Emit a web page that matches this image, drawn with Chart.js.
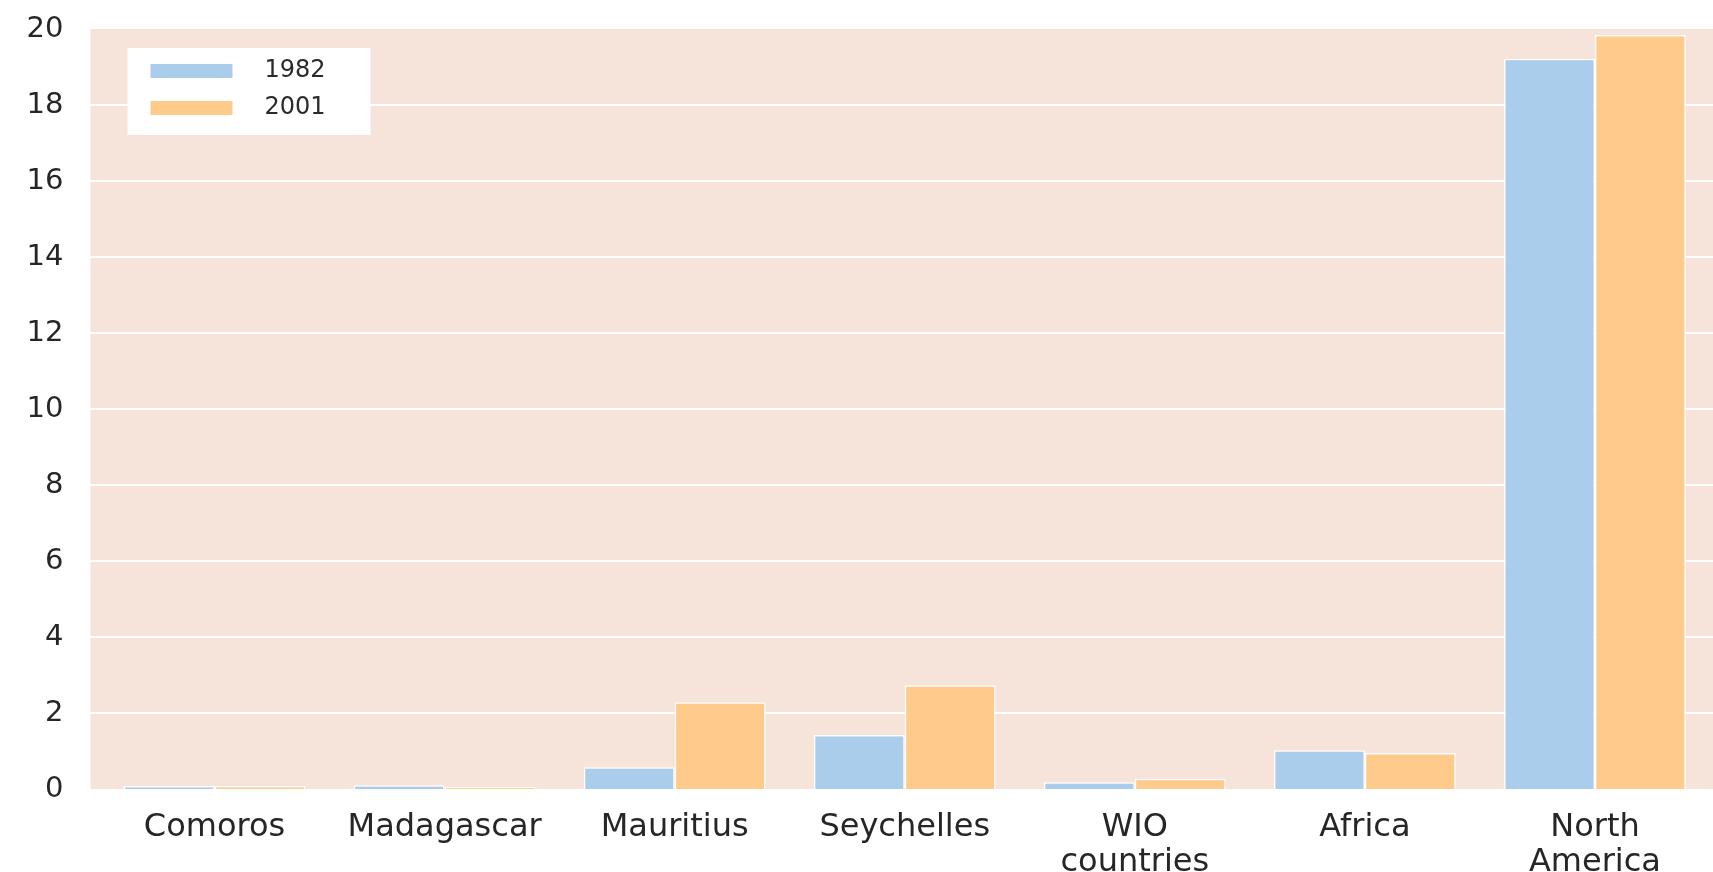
<!DOCTYPE html>
<html>
<head>
<meta charset="utf-8">
<script src="https://cdn.jsdelivr.net/npm/chart.js@4.4.0/dist/chart.umd.min.js"></script>
<style>
  body { margin: 0; background: #fff; }
  canvas { display: block; }
</style>
</head>
<body>
<canvas id="barChart" width="1713" height="872"></canvas>
<script>
// data
var categories = ['Comoros', 'Madagascar', 'Mauritius', 'Seychelles', ['WIO', 'countries'], 'Africa', ['North', 'America']];
var seriesLabels = ['1982', '2001'];
var values1982 = [0.08, 0.1, 0.57, 1.42, 0.18, 1.02, 19.22];
var values2001 = [0.08, 0.05, 2.28, 2.73, 0.27, 0.95, 19.84];
var yTicks = [0, 2, 4, 6, 8, 10, 12, 14, 16, 18, 20];

var blue = '#abcdec';
var orange = '#fecb8b';

// 배경 + 흰색 그리드
var backdrop = {
  id: 'backdrop',
  beforeDatasetsDraw: function (chart) {
    var c = chart.ctx, a = chart.chartArea, y = chart.scales.y;
    var left = a.left - 9;
    c.save();
    c.fillStyle = '#f6e4db';
    c.fillRect(left, a.top, chart.width - left, a.bottom - a.top);
    c.strokeStyle = '#ffffff';
    c.lineWidth = 2;
    yTicks.forEach(function (t) {
      if (t === 0 || t === 20) return;
      var py = Math.round(y.getPixelForValue(t));
      c.beginPath();
      c.moveTo(left, py);
      c.lineTo(chart.width, py);
      c.stroke();
    });
    c.restore();
  }
};

// 범례 (흰 상자)
var boxLegend = {
  id: 'boxLegend',
  afterDraw: function (chart) {
    var c = chart.ctx, a = chart.chartArea;
    var x0 = a.left + 28, y0 = a.top + 19;
    c.save();
    c.fillStyle = '#ffffff';
    c.fillRect(x0, y0, 243, 87);
    c.font = '24px "DejaVu Sans"';
    c.textBaseline = 'middle';
    chart.data.datasets.forEach(function (ds, i) {
      var cy = y0 + 23 + i * 37;
      c.fillStyle = ds.backgroundColor;
      c.fillRect(x0 + 23, cy - 7, 82, 14);
      c.fillStyle = '#2b2b2b';
      c.fillText(ds.label, x0 + 137, cy);
    });
    c.restore();
  }
};

var ctx = document.getElementById('barChart').getContext('2d');
var chart = new Chart(ctx, {
  type: 'bar',
  data: {
    labels: categories,
    datasets: [
      { label: seriesLabels[0], data: values1982, backgroundColor: blue, borderColor: '#ffffff', borderWidth: 1.5 },
      { label: seriesLabels[1], data: values2001, backgroundColor: orange, borderColor: '#ffffff', borderWidth: 1.5 }
    ]
  },
  options: {
    responsive: false,
    animation: false,
    layout: { padding: { top: 29, right: 3, left: 0, bottom: 0 } },
    datasets: { bar: { categoryPercentage: 0.79, barPercentage: 1.0 } },
    plugins: { legend: { display: false }, tooltip: { enabled: false } },
    scales: {
      x: {
        grid: { display: false },
        border: { display: false },
        ticks: {
          color: '#262626',
          font: { family: 'DejaVu Sans', size: 32, lineHeight: 1.1 },
          padding: 13,
          maxRotation: 0,
          autoSkip: false
        },
        afterFit: function (scale) {
          scale.height = 83;
          scale.paddingLeft = 0;
          scale.paddingRight = 0;
        }
      },
      y: {
        min: 0,
        max: 20,
        afterBuildTicks: function (scale) {
          scale.ticks = yTicks.map(function (v) { return { value: v }; });
        },
        grid: { display: false },
        border: { display: false },
        ticks: {
          color: '#262626',
          font: { family: 'DejaVu Sans', size: 29 },
          padding: 28
        },
        afterFit: function (scale) {
          scale.width = 99.5;
          scale.paddingTop = 0;
          scale.paddingBottom = 0;
        }
      }
    }
  },
  plugins: [backdrop, boxLegend]
});
</script>
</body>
</html>
